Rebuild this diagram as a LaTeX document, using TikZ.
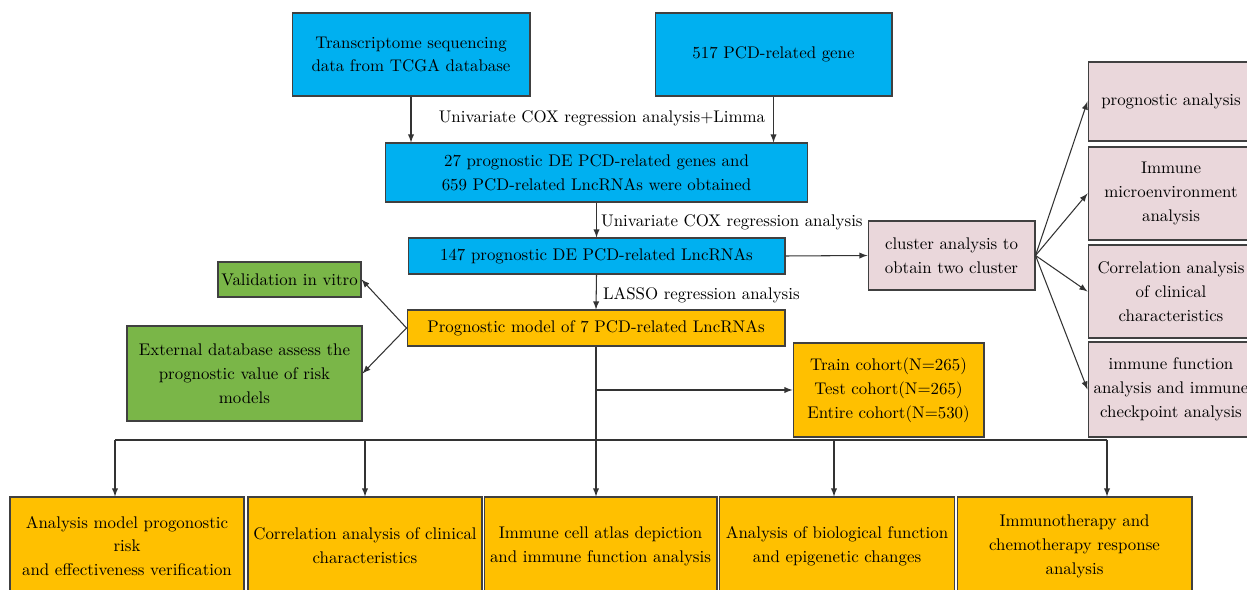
\documentclass[tikz,border=0pt]{standalone}
\usepackage{xcolor}
\usepackage{tikz}
\usetikzlibrary{calc}

\definecolor{tcgablue}{HTML}{00B0F0}
\definecolor{modelorange}{HTML}{FFC000}
\definecolor{vitrogreen}{HTML}{7AB648}
\definecolor{clusterpink}{HTML}{EAD7DB}

\begin{document}
\begin{tikzpicture}[x=0.02cm,y=-0.02cm,
  box/.style={draw=black!75,line width=0.6pt,align=center,inner sep=1pt,
    font=\fontsize{9.6}{13.6}\selectfont},
  lbl/.style={inner sep=1pt,font=\fontsize{9.6}{13.6}\selectfont},
  arr/.style={-latex,line width=0.6pt,black!80}]
\useasboundingbox (0,0) rectangle (1247,590);
\clip (0,0) rectangle (1247,590);

% data sources
\node[box,fill=tcgablue,minimum width=4.76cm,minimum height=1.66cm] (tcga) at (411,54.5) {Transcriptome sequencing\\data from TCGA database};
\node[box,fill=tcgablue,minimum width=4.74cm,minimum height=1.66cm] (pcd) at (773.5,54.5) {517 PCD-related gene};
\node[box,fill=tcgablue,minimum width=8.46cm,minimum height=1.18cm] (deg) at (596.5,172.5) {27 prognostic DE PCD-related genes and\\659 PCD-related LncRNAs were obtained};
\node[box,fill=tcgablue,minimum width=7.54cm,minimum height=0.72cm] (lnc) at (596.5,256) {147 prognostic DE PCD-related LncRNAs};
\node[box,fill=modelorange,minimum width=7.56cm,minimum height=0.72cm] (model) at (596,328) {Prognostic model of 7 PCD-related LncRNAs};

\node[lbl] (limma) at (602,118) {Univariate COX regression analysis+Limma};
\node[lbl,anchor=west] (ucox) at (599,222) {Univariate COX regression analysis};
\node[lbl,anchor=west] (lasso) at (601,295) {LASSO regression analysis};

\draw[arr] (tcga.south) -- (tcga.south |- deg.north);
\draw[arr] (pcd.south) -- (pcd.south |- deg.north);
\draw[arr] (deg.south) -- (lnc.north);
\draw[arr] (lnc.south) -- (model.north);

% cluster branch
\node[box,fill=clusterpink,minimum width=3.34cm,minimum height=1.38cm] (clu) at (951.5,255.5) {cluster analysis to\\obtain two cluster};
\node[box,fill=clusterpink,minimum width=3.32cm,minimum height=1.58cm] (pa) at (1171,101.5) {prognostic analysis};
\node[box,fill=clusterpink,minimum width=3.32cm,minimum height=1.86cm] (ima) at (1171,193.5) {Immune\\microenvironment\\analysis};
\node[box,fill=clusterpink,minimum width=3.32cm,minimum height=1.86cm] (cca) at (1171,291.5) {Correlation analysis\\of clinical\\characteristics};
\node[box,fill=clusterpink,minimum width=3.32cm,minimum height=1.90cm] (ifa) at (1171,389.5) {immune function\\analysis and immune\\checkpoint analysis};

\draw[arr] (lnc.east) -- (clu.west);
\draw[arr] (clu.east) -- (pa.west);
\draw[arr] (clu.east) -- (ima.west);
\draw[arr] (clu.east) -- (cca.west);
\draw[arr] (clu.east) -- (ifa.west);

% validation
\node[box,fill=vitrogreen,minimum width=2.86cm,minimum height=0.70cm] (vitro) at (289.5,279.5) {Validation in vitro};
\node[box,fill=vitrogreen,minimum width=4.70cm,minimum height=1.90cm] (ext) at (244.5,373.5) {External database assess the\\prognostic value of risk\\models};
\draw[arr] (model.west) -- (vitro.east);
\draw[arr] (model.west) -- (ext.east);

\node[box,fill=modelorange,minimum width=3.82cm,minimum height=1.88cm] (cohort) at (888.5,390) {Train cohort(N=265)\\Test cohort(N=265)\\Entire cohort(N=530)};

% downstream analyses
\node[box,fill=modelorange,minimum width=4.68cm,minimum height=1.96cm] (risk) at (127,546) {Analysis model progonostic\\risk\\and effectiveness verification};
\node[box,fill=modelorange,minimum width=4.68cm,minimum height=1.96cm] (clin) at (365,546) {Correlation analysis of clinical\\characteristics};
\node[box,fill=modelorange,minimum width=4.66cm,minimum height=1.96cm] (atlas) at (600.5,546) {Immune cell atlas depiction\\and immune function analysis};
\node[box,fill=modelorange,minimum width=4.70cm,minimum height=1.96cm] (bio) at (837,546) {Analysis of biological function\\and epigenetic changes};
\node[box,fill=modelorange,minimum width=4.70cm,minimum height=1.96cm] (immu) at (1074.5,546) {Immunotherapy and\\chemotherapy response\\analysis};

\coordinate (j1) at (115,440);
\coordinate (j2) at (365,440);
\coordinate (j4) at (834,440);
\coordinate (j5) at (1107,440);
\coordinate (jc) at (model.south |- cohort.west);
\draw[line width=0.6pt,black!80] (j1) -- (j5);
\draw[arr] (model.south) -- (model.south |- atlas.north);
\draw[arr] (jc) -- (cohort.west);
\draw[arr] (j1) -- (j1 |- risk.north);
\draw[arr] (j2) -- (j2 |- clin.north);
\draw[arr] (j4) -- (j4 |- bio.north);
\draw[arr] (j5) -- (j5 |- immu.north);
\end{tikzpicture}
\end{document}
